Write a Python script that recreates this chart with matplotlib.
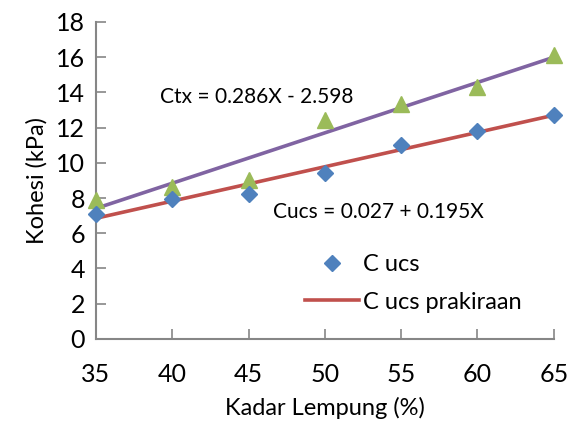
import matplotlib
matplotlib.use("Agg")
import matplotlib.pyplot as plt

# kadar lempung (%)
kadar = [35, 40, 45, 50, 55, 60, 65]
c_ucs = [7.1, 7.95, 8.2, 9.4, 11.0, 11.8, 12.7]
c_tx = [7.9, 8.6, 9.05, 12.4, 13.35, 14.3, 16.1]

# garis prakiraan (ujung-ujung garis)
x_fit = [35, 65]
ucs_fit = [6.85, 12.7]
tx_fit = [7.41, 15.99]

plt.rcParams['font.family'] = ['Lato', 'DejaVu Sans']

fig = plt.figure(figsize=(5.68, 4.28), dpi=100)
ax = fig.add_axes([0.169, 0.208, 0.806, 0.741])

ax.plot(x_fit, tx_fit, color='#8064A2', lw=2.6, zorder=2)
ax.plot(x_fit, ucs_fit, color='#C0504D', lw=2.6, zorder=2, label='C ucs prakiraan')
ax.plot(kadar, c_tx, linestyle='none', marker='^', color='#9BBB59', ms=11, zorder=3, clip_on=False)
ax.plot(kadar, c_ucs, linestyle='none', marker='D', color='#4F81BD', ms=8, zorder=4, clip_on=False, label='C ucs')

ax.text(39.2, 13.75, 'Ctx = 0.286X - 2.598', fontsize=15, va='center')
ax.text(46.6, 7.2, 'Cucs = 0.027 + 0.195X', fontsize=15, va='center')

ax.set_xlim(35, 65)
ax.set_ylim(0, 18)
ax.set_xticks(range(35, 66, 5))
ax.set_yticks(range(0, 19, 2))
ax.tick_params(direction='in', length=7, width=1.2, color='#868686', labelsize=18)
ax.tick_params(axis='x', pad=17)
ax.tick_params(axis='y', pad=8)
for s in ['top', 'right']:
    ax.spines[s].set_visible(False)
for s in ['left', 'bottom']:
    ax.spines[s].set_color('#868686')
    ax.spines[s].set_linewidth(1.5)

ax.set_xlabel('Kadar Lempung (%)', fontsize=17, labelpad=8)
ax.set_ylabel('Kohesi (kPa)', fontsize=17, labelpad=6)

h, l = ax.get_legend_handles_labels()
ax.legend(h[::-1], l[::-1], loc='upper left', bbox_to_anchor=(0.41, 0.335), frameon=False,
          fontsize=17, handlelength=2.3, labelspacing=0.7, handletextpad=0.15)

fig.savefig('out.png', dpi=100)
